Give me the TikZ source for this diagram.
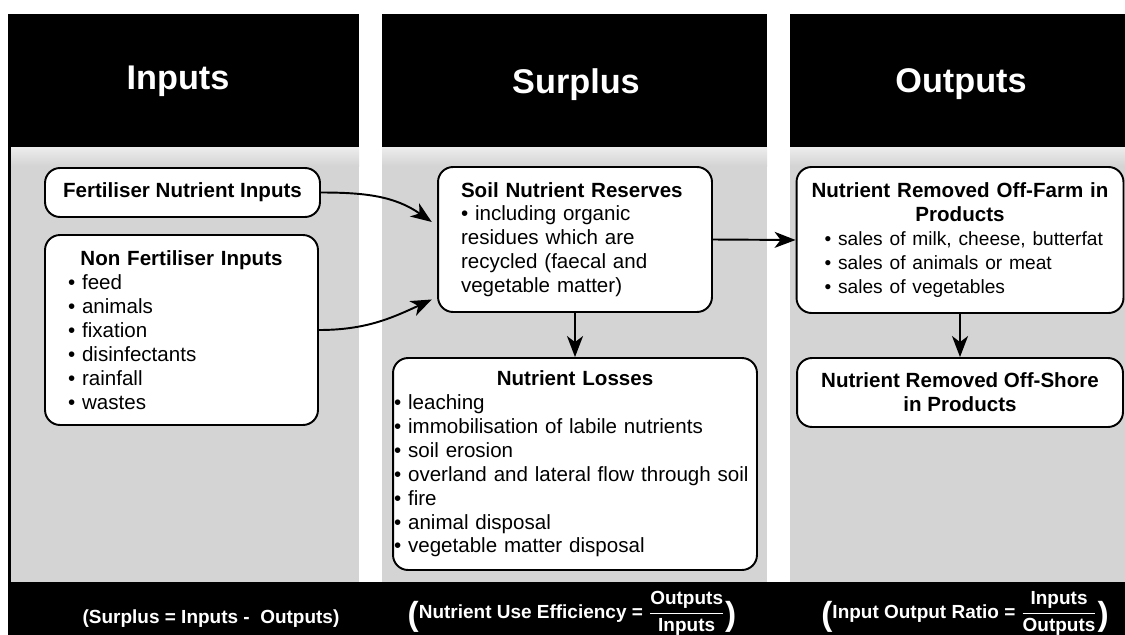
\documentclass[tikz,border=0pt]{standalone}
\usepackage{fontspec}
\usepackage{amsmath}
\setmainfont{Liberation Sans}
\usetikzlibrary{arrows.meta}

\definecolor{panel}{gray}{0.83}
\newcommand{\boxtitle}[1]{\hfill\textbf{#1}\hfill\null}
\newcommand{\tallpar}[1]{\raisebox{-0.14cm}{\fontsize{19}{20}\selectfont#1}}

\begin{document}
\begin{tikzpicture}[x=0.02cm, y=-0.02cm,
        box/.style={draw, fill=white, rounded corners=0.3cm, line width=1.1pt,
            font=\fontsize{11.7}{13.6}\selectfont},
        head/.style={text=white, anchor=base, font=\fontsize{19.5}{22}\selectfont\bfseries},
        foot/.style={text=white, anchor=base, font=\fontsize{10.8}{13}\selectfont\bfseries},
        flow/.style={-{Stealth[length=0.42cm, width=0.32cm, inset=0.12cm]}, line width=1.1pt}]
            \useasboundingbox (0,0) rectangle (1125,635);

            % Draw the three columns: black heading, grey panel
            \fill[white] (0,0) rectangle (1125,635);
            \foreach \xa/\xb in {8/359, 382/767, 790/1125} {
                \fill[black] (\xa,14) rectangle (\xb,147);
                \fill[panel] (\xa,147) rectangle (\xb,582);
                \shade[top color=black!7, bottom color=panel] (\xa,147) rectangle (\xb,166);
            }
            \fill[black] (8,147) rectangle (11,582);
            \fill[black] (8,582) rectangle (1125,635);

            % Headings
            \node[head] (hin) at (178,90) {Inputs};
            \node[head] (hsur) at (576,93) {Surplus};
            \node[head] (hout) at (961,92) {Outputs};

            % Inputs
            \node[box, minimum width=5.5cm, minimum height=0.98cm] (fert) at (182.5,192.5) {\textbf{Fertiliser Nutrient Inputs}};
            \node[box, minimum height=3.8cm, inner xsep=0.46cm, text width=4.54cm, align=left] (nonfert) at (181.5,330)
                {\boxtitle{Non Fertiliser Inputs}\\ • feed\\ • animals\\ • fixation\\ • disinfectants\\ • rainfall\\ • wastes};

            % Surplus
            \node[box, minimum height=2.9cm, inner xsep=0.46cm, text width=4.56cm, align=left] (soil) at (575,239.5)
                {\textbf{Soil Nutrient Reserves}\\ • including organic\\ residues which are\\ recycled (faecal and\\ vegetable matter)};
            \node[box, minimum height=4.24cm, inner xsep=0.02cm, text width=7.24cm, align=left] (loss) at (575,464)
                {\boxtitle{Nutrient Losses}\\ • leaching\\ • immobilisation of labile nutrients\\ • soil erosion\\
                 • overland and lateral flow through soil\\ • fire\\ • animal disposal\\ • vegetable matter disposal};

            % Outputs
            \node[box, minimum height=2.92cm, inner xsep=0.06cm, text width=6.42cm, align=left] (farm) at (960,240)
                {\boxtitle{Nutrient Removed Off-Farm in}\\ \boxtitle{Products}\\ \fontsize{10.9}{13.6}\selectfont
                 \hspace*{0.5cm}• sales of milk, cheese, butterfat\\ \hspace*{0.5cm}• sales of animals or meat\\
                 \hspace*{0.5cm}• sales of vegetables};
            \node[box, minimum width=6.52cm, minimum height=1.38cm, align=center] (shore) at (960,392.5)
                {\textbf{Nutrient Removed Off-Shore}\\ \textbf{in Products}};

            % Connectors
            \path[flow] (fert.east) edge [out=0, in=145] ([yshift=0.35cm, xshift=-3pt]soil.west);
            \path[flow] (nonfert.east) edge [out=0, in=205] ([yshift=-1.2cm, xshift=-3pt]soil.west);
            \path[flow] (soil.east) edge (farm.west);
            \path[flow] (soil.south) edge (loss.north);
            \path[flow] (farm.south) edge (shore.north);

            % Bottom formulas
            \node[foot] (surp) at (211,623) {(Surplus = Inputs - \ Outputs)};
            \node[foot] (nue) at (572,618)
                {\tallpar{(}Nutrient Use Efficiency = $\dfrac{\text{Outputs}}{\text{Inputs}}$\tallpar{)}};
            \node[foot] (ratio) at (965,618)
                {\tallpar{(}Input Output Ratio = $\dfrac{\text{Inputs}}{\text{Outputs}}$\tallpar{)}};
\end{tikzpicture}
\end{document}
